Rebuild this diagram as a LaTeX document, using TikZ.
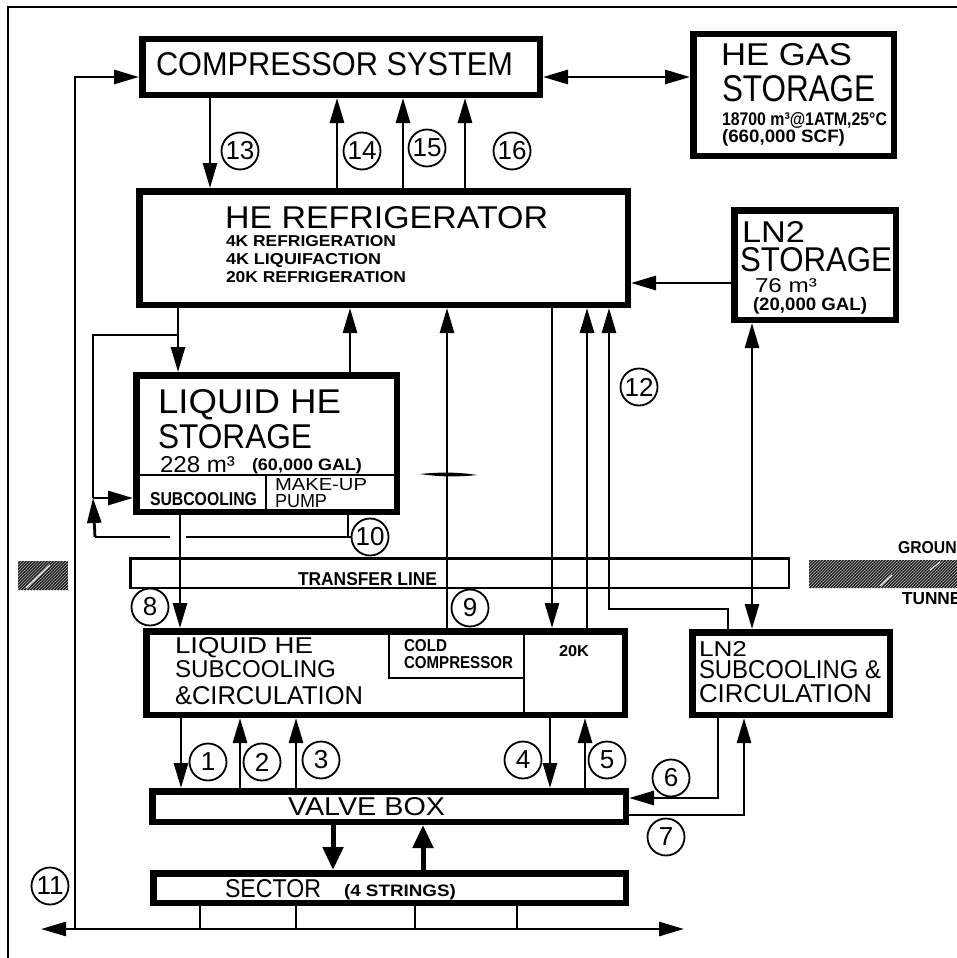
\documentclass[tikz,border=0pt]{standalone}
\usepackage{graphicx}
\usepackage{fontspec}
\setmainfont{Liberation Sans}
\usetikzlibrary{arrows.meta,patterns}
\tikzset{
  x=1pt,y=-1pt,
  box/.style={draw,line width=6.5pt,rectangle,inner sep=0pt},
  thinbox/.style={draw,line width=2.5pt,rectangle,inner sep=0pt},
  num/.style={draw,circle,line width=1.8pt,minimum size=37pt,inner sep=0pt,fill=white,font=\fontsize{26}{26}\selectfont},
  lab/.style={anchor=base west,inner sep=0pt,outer sep=0pt},
  conn/.style={line width=2.8pt},
  arr/.style={conn,-{Triangle[length=25pt,width=14pt]}},
  barr/.style={conn,{Triangle[length=25pt,width=14pt]}-{Triangle[length=25pt,width=14pt]}},
  heavy/.style={line width=5pt,-{Triangle[length=23pt,width=20pt]}},
  fine/.style={line width=1.5pt},
}
% outer edges x1 y1 x2 y2, line width w
\newcommand\bx[7][box]{%
  \pgfmathsetmacro\cx{(#3+#5)/2}\pgfmathsetmacro\cy{(#4+#6)/2}%
  \pgfmathsetmacro\ww{#5-#3-#7}\pgfmathsetmacro\hh{#6-#4-#7}%
  \node[#1,minimum width=\ww pt,minimum height=\hh pt] (#2) at (\cx,\cy) {};}
% name x baseline x2 capheight text
\newcommand\lb[6]{%
  \pgfmathsetmacro\ww{#4-#2}%
  \node[lab] (#1) at (#2,#3) {\resizebox{\ww pt}{#5pt}{#6}};}
\newcommand\lbb[6]{%
  \pgfmathsetmacro\ww{#4-#2}%
  \node[lab] (#1) at (#2,#3) {\resizebox{\ww pt}{#5pt}{\bfseries #6}};}
\begin{document}
\begin{tikzpicture}
\useasboundingbox (0,0) rectangle (957,958);
\fill[white] (0,0) rectangle (957,958);
% frame
\draw[line width=2.5pt] (8,958) -- (8,7) -- (957,7);
% boxes
\bx{comp}{139}{36}{543}{98}{6.5}
\bx{gas}{690}{31}{897}{159}{6.5}
\bx{ref}{136}{188}{631}{308}{6.5}
\bx{lnst}{731}{207}{899}{323}{6.5}
\bx{liq}{133}{372}{400}{515}{6.5}
\bx[thinbox]{trans}{129}{557}{790}{589}{2.5}
\bx{sub}{143}{628}{628}{718}{6.5}
\bx{lnsub}{689}{629}{893}{718}{6.5}
\bx{valve}{149}{788}{629}{825}{6.5}
\bx{sector}{150}{870}{629}{906}{6.5}
% helium loop along left
\coordinate (busL) at (41,929);
\coordinate (busR) at (684,929);
\coordinate (busT) at (75,929);
\draw[barr] (busL) -- (busR);
\draw[arr] (busT) |- (comp.west |- 0,77);
% compressor connections
\draw[barr] (comp.east |- 0,77) -- (gas.west |- 0,77);
\draw[arr] (comp.south -| 210,0) -- (ref.north -| 210,0);
\draw[arr] (ref.north -| 337,0) -- (comp.south -| 337,0);
\draw[arr] (ref.north -| 403,0) -- (comp.south -| 403,0);
\draw[arr] (ref.north -| 465,0) -- (comp.south -| 465,0);
% LN2 storage
\draw[arr] (lnst.west |- 0,283) -- (ref.east |- 0,283);
\draw[barr] (lnst.south -| 752,0) -- (lnsub.north -| 752,0);
% refrigerator to liquid storage
\draw[arr] (ref.south -| 178,0) -- (liq.north -| 178,0);
\coordinate (sc) at (93,498);
\draw[conn] (178,335) -- (93,335) -- (sc);
\draw[arr] (sc) -- (liq.west |- sc);
\draw[arr] (liq.north -| 350,0) -- (ref.south -| 350,0);
% transfer line connections
\draw[arr] (liq.south -| 180,0) -- (sub.north -| 180,0);
\draw[arr] (sub.north -| 447,0) -- (ref.south -| 447,0);
\draw[arr] (ref.south -| 552,0) -- (sub.north -| 552,0);
\draw[arr] (sub.north -| 587,0) -- (ref.south -| 587,0);
\draw[arr] (lnsub.north -| 728,0) -- (728,609) -- (609,609) -- (ref.south -| 609,0);
\fill (420,474) .. controls (440,472) and (458,472) .. (477,475) .. controls (458,477) and (440,477) .. (420,474) -- cycle;
% to valve box
\draw[arr] (sub.south -| 181,0) -- (valve.north -| 181,0);
\draw[arr] (valve.north -| 240,0) -- (sub.south -| 240,0);
\draw[arr] (valve.north -| 296,0) -- (sub.south -| 296,0);
\draw[arr] (sub.south -| 550,0) -- (valve.north -| 550,0);
\draw[arr] (valve.north -| 585,0) -- (sub.south -| 585,0);
\draw[arr] (lnsub.south -| 718,0) -- (718,798) -- (valve.east |- 0,798);
\draw[arr] (valve.east |- 0,815) -- (744,815) -- (lnsub.south -| 744,0);
\draw[heavy] (valve.south -| 333,0) -- (sector.north -| 333,0);
\draw[heavy] (sector.north -| 423,0) -- (valve.south -| 423,0);
% sector ticks
\foreach \tx in {200,296,415,517}{
  \draw[line width=2.2pt] (sector.south -| \tx,0) -- (\tx,929);
}
% circled numbers
\node[num] (n1) at (208,762) {1};
\node[num] (n2) at (262,762) {2};
\node[num] (n3) at (321,760) {3};
\node[num] (n4) at (523,760) {4};
\node[num] (n5) at (607,760) {5};
\node[num] (n6) at (671,778) {6};
\node[num] (n7) at (666,837) {7};
\node[num] (n8) at (150,607) {8};
\node[num] (n9) at (470,608) {9};
\node[num] (n10) at (370,537) {10};
\node[num] (n11) at (50,886) {11};
\node[num] (n12) at (639,387) {12};
\node[num] (n13) at (240,151) {13};
\node[num] (n14) at (362,151) {14};
\node[num] (n15) at (427,148) {15};
\node[num] (n16) at (512,151) {16};
% 10 loop
\coordinate (p10) at (95,537);
\coordinate (g10a) at (186,537);
\coordinate (g10b) at (170,537);
\draw[conn] (liq.south -| 348,0) -- (n10.west -| 348,0);
\draw[conn] (n10.west) -- (g10a);
\draw[conn] (g10b) -- (p10);
\draw[arr] (p10) -- (sc);
% storage inner partitions
\draw[fine] (136,475) -- (397,475);
\draw[fine] (266,475) -- (266,511);
% subcooling partitions
\draw[fine] (524,631) -- (524,712);
\draw[fine] (389,631) -- (389,678) -- (524,678);
% ground hatching
\fill[black!88] (18,561) rectangle (68,590);
\fill[pattern=north east lines,pattern color=white!70!black] (18,561) rectangle (68,590);
\draw[white,line width=1pt] (26,588) -- (50,565);
\fill[black!88] (809,560) rectangle (957,588);
\fill[pattern=north east lines,pattern color=white!75!black] (809,560) rectangle (957,588);
\draw[white,line width=1pt] (880,586) -- (892,575);
\draw[white,line width=1pt] (930,570) -- (940,562);
% labels
\lb{t1}{156}{75}{513}{23}{COMPRESSOR SYSTEM}
\lb{t2}{721}{66}{852}{22}{HE GAS}
\lb{t3}{722}{102}{875}{26}{STORAGE}
\lbb{t4}{722}{125}{887}{13}{18700 m³@1ATM,25°C}
\lbb{t5}{722}{142}{845}{13}{(660,000 SCF)}
\lb{t6}{225}{228}{548}{22}{HE REFRIGERATOR}
\lbb{t7}{226}{246}{396}{11}{4K REFRIGERATION}
\lbb{t8}{226}{264}{381}{11}{4K LIQUIFACTION}
\lbb{t9}{226}{282}{406}{11}{20K REFRIGERATION}
\lb{t10}{742}{242}{805}{21}{LN2}
\lb{t11}{740}{271}{892}{24}{STORAGE}
\lb{t12}{755}{292}{817}{14}{76 m³}
\lbb{t13}{753}{310}{867}{13}{(20,000 GAL)}
\lb{t14}{158}{413}{341}{24}{LIQUID HE}
\lb{t15}{158}{448}{312}{24}{STORAGE}
\lb{t16}{160}{472}{235}{16}{228 m³}
\lbb{t17}{252}{470}{362}{12}{(60,000 GAL)}
\lbb{t18}{150}{505}{257}{13}{SUBCOOLING}
\lb{t19}{275}{490}{367}{12}{MAKE-UP}
\lb{t20}{275}{507}{327}{13}{PUMP}
\lbb{t21}{298}{585}{437}{13}{TRANSFER LINE}
\lb{t22}{175}{653}{313}{16}{LIQUID HE}
\lb{t23}{175}{677}{336}{17}{SUBCOOLING}
\lb{t24}{175}{704}{363}{18}{\&CIRCULATION}
\lbb{t25}{404}{651}{447}{12}{COLD}
\lbb{t26}{404}{668}{513}{12}{COMPRESSOR}
\lbb{t27}{559}{656}{589}{11}{20K}
\lb{t28}{699}{656}{747}{15}{LN2}
\lb{t29}{699}{678}{881}{18}{SUBCOOLING \&}
\lb{t30}{699}{702}{872}{18}{CIRCULATION}
\lb{t31}{288}{815}{445}{18}{VALVE BOX}
\lb{t32}{225}{897}{321}{18}{SECTOR}
\lbb{t33}{344}{896}{456}{12}{(4 STRINGS)}
\lbb{t34}{898}{553}{968}{12}{GROUND}
\lbb{t35}{902}{604}{972}{12}{TUNNEL}
\end{tikzpicture}
\end{document}
